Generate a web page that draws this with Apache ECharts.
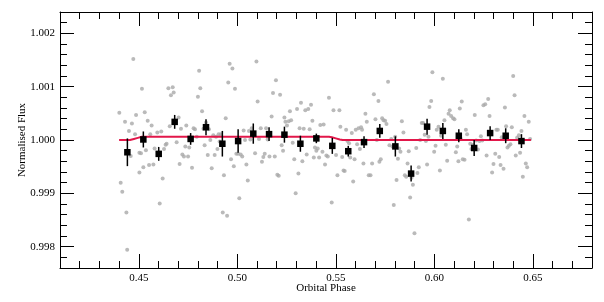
<!DOCTYPE html>
<html>
<head>
<meta charset="utf-8">
<script src="https://cdn.jsdelivr.net/npm/echarts@6/dist/echarts.min.js"></script>
<style>
html,body{margin:0;padding:0;background:#fff;}
#chart{width:604px;height:302px;}
</style>
</head>
<body>
<div id="chart"></div>
<script>
// Unbinned observations (orbital phase, normalised flux)
const obsPhase = [
0.4401,0.4408,0.4416,0.4430,0.4437,0.4441,0.4450,0.4459,0.4465,0.4472,0.4481,0.4486,0.4503,0.4503,0.4511,0.4516,0.4523,0.4530,0.4536,0.4545,
0.4552,0.4558,0.4565,0.4574,0.4580,0.4594,0.4606,0.4614,0.4621,0.4628,0.4636,0.4641,0.4650,0.4657,0.4663,0.4672,0.4677,0.4692,0.4702,0.4707,
0.4714,0.4721,0.4729,0.4736,0.4741,0.4750,0.4756,0.4770,0.4778,0.4785,0.4794,0.4800,0.4806,0.4812,0.4821,0.4828,0.4834,0.4841,0.4850,0.4856,
0.4863,0.4870,0.4878,0.4885,0.4892,0.4899,0.4905,0.4910,0.4916,0.4926,0.4932,0.4941,0.4948,0.4954,0.4961,0.4968,0.4975,0.4982,0.4988,0.4995,
0.5004,0.5010,0.5017,0.5025,0.5032,0.5039,0.5046,0.5053,0.5059,0.5066,0.5073,0.5090,0.5097,0.5103,0.5110,0.5119,0.5125,0.5132,0.5139,0.5146,
0.5154,0.5163,0.5174,0.5181,0.5190,0.5196,0.5203,0.5210,0.5217,0.5225,0.5232,0.5239,0.5244,0.5252,0.5261,0.5267,0.5273,0.5281,0.5289,0.5296,
0.5303,0.5310,0.5316,0.5323,0.5330,0.5337,0.5345,0.5352,0.5360,0.5367,0.5374,0.5381,0.5388,0.5394,0.5401,0.5408,0.5415,0.5421,0.5432,0.5438,
0.5445,0.5452,0.5459,0.5465,
0.5479,0.5488,0.5501,0.5508,0.5518,0.5523,0.5532,0.5539,0.5545,0.5552,0.5559,0.5567,0.5573,0.5581,0.5588,0.5595,0.5601,0.5608,0.5615,0.5622,
0.5628,0.5633,0.5640,0.5650,0.5657,0.5667,0.5676,0.5684,0.5693,0.5701,0.5708,0.5716,0.5721,0.5728,0.5735,0.5742,0.5750,0.5757,0.5765,0.5772,
0.5781,0.5787,0.5794,0.5801,0.5808,0.5815,0.5821,0.5828,0.5835,0.5843,0.5850,0.5857,0.5864,0.5870,0.5877,0.5884,0.5891,0.5899,0.5908,0.5914,
0.5921,0.5928,0.5936,0.5943,0.5951,0.5957,0.5963,0.5970,0.5975,0.5984,0.5990,0.5999,0.6006,0.6012,0.6021,0.6028,0.6034,0.6043,0.6051,0.6058,
0.6065,0.6072,0.6078,0.6085,0.6095,0.6102,0.6109,0.6116,0.6122,0.6129,0.6133,0.6139,0.6144,0.6153,0.6160,0.6166,0.6175,0.6182,0.6188,0.6197,
0.6205,0.6212,0.6221,0.6229,0.6236,0.6243,0.6249,0.6258,0.6265,0.6273,0.6280,0.6287,0.6293,0.6300,0.6309,0.6315,0.6322,0.6329,0.6336,0.6342,
0.6351,0.6358,0.6364,0.6371,0.6378,0.6386,0.6393,0.6400,0.6407,0.6413,0.6420,0.6429,0.6435,0.6442,0.6449,0.6457,0.6464,0.6471,0.6479,0.6486
];
const obsFlux = [
1.00051,0.99920,0.99903,1.00034,0.99864,0.99794,1.00017,0.99970,1.00031,1.00152,1.00011,1.00047,0.99939,0.99976,0.99975,1.00096,0.99949,1.00052,0.99981,1.00036,
0.99953,1.00011,1.00027,0.99954,0.99984,1.00014,0.99881,1.00016,0.99928,0.99983,0.99991,0.99993,1.00097,1.00026,1.00084,1.00099,1.00089,0.99996,1.00042,0.99955,
1.00021,0.99973,0.99969,0.99988,1.00027,0.99969,0.99986,0.99948,1.00022,1.00020,1.00006,1.00081,1.00130,1.00097,1.00054,1.00021,0.99990,1.00033,0.99972,1.00020,
1.00000,0.99947,1.00009,0.99972,1.00006,0.99983,1.00011,0.99997,1.00011,0.99864,0.99934,1.00041,0.99858,1.00108,1.00143,0.99964,1.00134,0.99951,1.00096,0.99974,
0.99974,0.99891,0.99973,0.99969,1.00018,1.00000,0.99954,0.99924,1.00017,1.00001,1.00022,0.99975,1.00147,1.00072,1.00002,1.00022,0.99959,0.99968,0.99974,1.00022,
1.00001,0.99969,1.00044,1.00088,0.99969,1.00112,0.99935,0.99933,1.00085,0.99990,0.99980,1.00042,1.00034,1.00027,1.00035,1.00054,1.00037,0.99995,0.99964,0.99900,
1.00058,0.99937,1.00022,1.00070,0.99960,1.00021,1.00056,0.99973,1.00058,1.00020,1.00066,1.00036,0.99967,0.99986,0.99980,0.99984,0.99967,1.00028,0.99978,1.00029,
0.99954,0.99971,0.99969,1.00079,
0.99883,1.00056,0.99972,0.99934,1.00056,1.00025,0.99968,0.99943,0.99942,1.00019,0.99998,0.99994,0.99967,1.00013,0.99922,0.99964,1.00019,0.99992,1.00022,0.99983,
1.00024,1.00019,0.99956,1.00049,1.00034,0.99934,0.99934,0.99956,1.00086,1.00039,1.00000,1.00073,0.99959,0.99964,1.00041,1.00037,1.00036,1.00030,1.00109,0.99990,
1.00002,0.99988,0.99878,1.00006,0.99925,0.99965,0.99984,0.99978,1.00035,1.00014,0.99934,0.99931,0.99956,0.99979,0.99892,0.99929,0.99916,0.99825,0.99985,0.99938,
0.99949,1.00000,1.00032,1.00032,1.00010,0.99998,0.99954,1.00006,1.00062,1.00073,1.00127,0.99978,0.99989,1.00019,1.00025,0.99943,1.00008,1.00115,1.00037,0.99991,
0.99961,1.00049,1.00056,1.00045,1.00041,1.00039,0.99977,0.99988,0.99960,1.00059,1.00003,1.00072,0.99964,0.99963,1.00019,1.00011,0.99851,0.99993,0.99983,0.99991,
1.00047,0.99999,0.99982,0.99998,1.00007,0.99999,1.00065,1.00067,0.99971,1.00077,1.00045,1.00012,0.99939,0.99955,0.99974,1.00019,1.00019,0.99968,0.99953,1.00005,
0.99946,1.00061,1.00026,0.99986,0.99989,0.99992,1.00024,1.00120,1.00084,0.99971,1.00004,1.00009,0.99976,1.00017,0.99931,1.00045,0.99956,0.99949,1.00034,1.00002
];

// Binned points with uncertainties
const binPhase = [0.4442,0.4523,0.4601,0.4682,0.4763,0.4841,0.4924,0.5004,0.5081,0.5161,0.5239,0.5320,0.5401,0.5482,0.5563,0.5643,0.5723,0.5802,0.5882,0.5963,0.6043,0.6124,0.6202,0.6283,0.6362,0.6442];
const binFlux  = [0.99977,1.00001,0.99974,1.00034,1.00002,1.00024,0.99993,0.99998,1.00012,1.00011,1.00010,0.99993,1.00003,0.99989,0.99979,0.99996,1.00017,0.99988,0.99937,1.00025,1.00017,1.00008,0.99985,1.00013,1.00008,0.99998];
const binErr   = [0.00026,0.00015,0.00013,0.00013,0.00011,0.00015,0.00024,0.00022,0.00019,0.00013,0.00015,0.00015,0.00009,0.00015,0.00010,0.00011,0.00013,0.00019,0.00015,0.00015,0.00015,0.00012,0.00015,0.00013,0.00014,0.00013];

// Model curve
const modelPhase = [0.4400,0.4455,0.4475,0.4495,0.4515,0.4530,0.5465,0.5480,0.5500,0.5520,0.5535,0.6490];
const modelFlux  = [1.00000,1.00000,1.00002,1.00004,1.00006,1.00006,1.00006,1.00005,1.00003,1.00001,1.00000,1.00000];

// Axis ticks
const xMajorTicks = [0.45,0.50,0.55,0.60,0.65];
const yMajorTicks = [0.998,0.999,1.000,1.001,1.002];
const xRange = [0.41, 0.68];
const yRange = [0.9976, 1.0024];

const FONT = '"Liberation Serif","DejaVu Serif",serif';
const chart = echarts.init(document.getElementById('chart'), null, {renderer:'canvas'});

function minorAxis(pos, range, interval){
  return {
    type:'value', position:pos, min:range[0], max:range[1], interval:interval,
    axisLine:{show:true, onZero:false, lineStyle:{color:'#000', width:1}},
    axisTick:{show:true, inside:true, length:7, lineStyle:{color:'#000', width:1}},
    axisLabel:{show:false}, splitLine:{show:false}
  };
}
function majorAxis(pos, range, ticks, showLabels, fmt, extra){
  return Object.assign({
    type:'value', position:pos, min:range[0], max:range[1],
    axisLine:{show:false, onZero:false},
    axisTick:{show:true, inside:true, length:14, customValues:ticks, lineStyle:{color:'#000', width:1}},
    axisLabel:{show:showLabels, customValues:ticks, formatter:fmt, fontFamily:FONT, fontSize:11, color:'#000', margin:pos==='left'?5:5},
    splitLine:{show:false}
  }, extra||{});
}

const option = {
  backgroundColor:'#fff',
  animation:false,
  grid:{left:60, right:12, top:12, bottom:34, containLabel:false},
  xAxis:[
    minorAxis('bottom', xRange, 0.01),
    majorAxis('bottom', xRange, xMajorTicks, true, v => v.toFixed(2), {
      name:'Orbital Phase', nameLocation:'middle', nameGap:15, nameMoveOverlap:false,
      nameTextStyle:{fontFamily:FONT, fontSize:11, color:'#000'}
    }),
    minorAxis('top', xRange, 0.01),
    majorAxis('top', xRange, xMajorTicks, false, null)
  ],
  yAxis:[
    minorAxis('left', yRange, 0.0002),
    majorAxis('left', yRange, yMajorTicks, true, v => v.toFixed(3), {
      name:'Normalised Flux', nameLocation:'middle', nameGap:32, nameRotate:90, nameMoveOverlap:false,
      nameTextStyle:{fontFamily:FONT, fontSize:11, color:'#000'}
    }),
    minorAxis('right', yRange, 0.0002),
    majorAxis('right', yRange, yMajorTicks, false, null)
  ],
  series:[
    {
      type:'scatter', xAxisIndex:0, yAxisIndex:0,
      data: obsPhase.map((p,i)=>[p, obsFlux[i]]),
      symbol:'circle', symbolSize:4,
      itemStyle:{color:'#a9a9a9'}, z:2, silent:true
    },
    {
      type:'line', xAxisIndex:0, yAxisIndex:0,
      data: modelPhase.map((p,i)=>[p, modelFlux[i]]),
      showSymbol:false, smooth:false,
      lineStyle:{color:'#e2174a', width:2}, z:3, silent:true
    },
    {
      type:'custom', xAxisIndex:0, yAxisIndex:0,
      data: binPhase.map((p,i)=>[p, binFlux[i], binErr[i]]),
      z:4, silent:true,
      renderItem:function(params, api){
        const x = api.value(0), y = api.value(1), e = api.value(2);
        const lo = api.coord([x, y - e]);
        const hi = api.coord([x, y + e]);
        const c = api.coord([x, y]);
        const s = 6.5;
        return {type:'group', children:[
          {type:'line', shape:{x1:lo[0], y1:lo[1], x2:hi[0], y2:hi[1]}, style:{stroke:'#000', lineWidth:1.5}},
          {type:'rect', shape:{x:c[0]-s/2, y:c[1]-s/2, width:s, height:s}, style:{fill:'#000'}}
        ]};
      }
    }
  ]
};
chart.setOption(option);
</script>
</body>
</html>
